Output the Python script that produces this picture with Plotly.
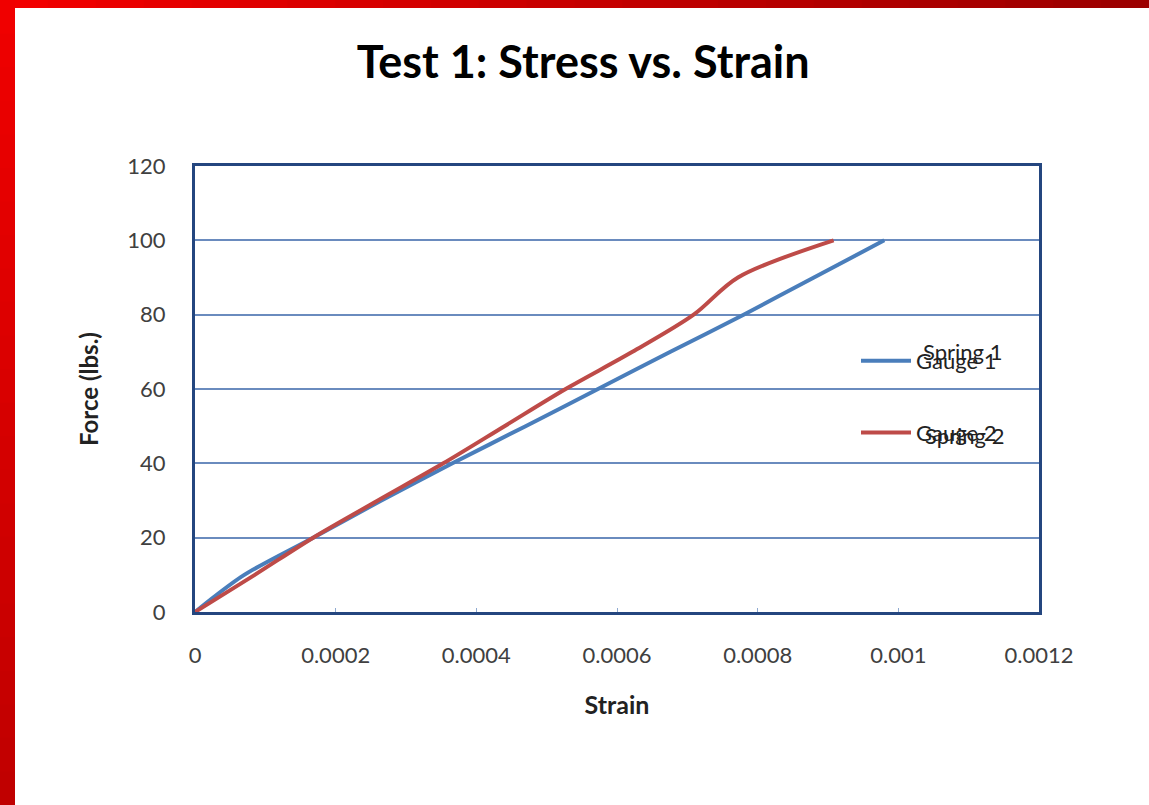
import plotly.graph_objects as go

# ---- data ----
spring1_strain = [0, 0.00003, 0.00007, 0.000168, 0.000265, 0.000366, 0.00047, 0.000573, 0.000676, 0.00078, 0.00088, 0.00098]
spring1_force = [0, 4.5, 10, 20, 30, 40, 50, 60, 70, 80, 90, 100]
spring2_strain = [0, 0.000085, 0.000168, 0.00026, 0.000353, 0.00044, 0.000527, 0.000622, 0.000709, 0.000772, 0.000908]
spring2_force = [0, 10, 20, 30, 40, 50, 60, 70, 80, 90, 100]
x_ticks = [0, 0.0002, 0.0004, 0.0006, 0.0008, 0.001, 0.0012]
x_tick_labels = ["0", "0.0002", "0.0004", "0.0006", "0.0008", "0.001", "0.0012"]
y_ticks = [0, 20, 40, 60, 80, 100, 120]

W, H = 1149, 805
L, R, T, B = 195, 110, 166, 193
PW, PH = W - L - R, H - T - B


def px_x(p):
    return (p - L) / PW


def px_y(p):
    return (H - B - p) / PH


FONT = "Lato, 'Open Sans', sans-serif"

fig = go.Figure()
fig.add_trace(go.Scatter(x=spring1_strain, y=spring1_force, mode="lines", name="Gauge 1",
                         legendgroup="g1", line=dict(color="#4A7EBB", width=4, shape="spline", smoothing=0.9)))
fig.add_trace(go.Scatter(x=spring2_strain, y=spring2_force, mode="lines", name="Gauge 2",
                         legendgroup="g2", line=dict(color="#BE4B48", width=4, shape="spline", smoothing=0.9)))

shapes = []
# red slide frame (approximate gradient with segments)
n = 24
for i in range(n):
    t = i / (n - 1)
    r = int(0xF2 + (0x9C - 0xF2) * t)
    shapes.append(dict(type="rect", xref="paper", yref="paper",
                       x0=px_x(W * i / n), x1=px_x(W * (i + 1) / n + 1), y0=px_y(8), y1=px_y(0),
                       fillcolor=f"rgb({r},0,0)", line=dict(width=0), layer="above"))
for i in range(n):
    t = i / (n - 1)
    r = int(0xF0 + (0xC0 - 0xF0) * t)
    shapes.append(dict(type="rect", xref="paper", yref="paper",
                       x0=px_x(0), x1=px_x(15), y0=px_y(H * i / n), y1=px_y(H * (i + 1) / n + 1),
                       fillcolor=f"rgb({r},0,0)", line=dict(width=0), layer="above"))

annotations = [
    dict(text="Spring 1", xref="paper", yref="paper", x=px_x(921), y=px_y(351), xanchor="left", yanchor="middle",
         showarrow=False, font=dict(family=FONT, size=22, color="#222222")),
    dict(text="Spring 2", xref="paper", yref="paper", x=px_x(923), y=px_y(435), xanchor="left", yanchor="middle",
         showarrow=False, font=dict(family=FONT, size=22, color="#222222")),
]

fig.update_layout(
    width=W, height=H,
    margin=dict(l=L, r=R, t=T, b=B),
    paper_bgcolor="white", plot_bgcolor="white",
    title=dict(text="<b>Test 1: Stress vs. Strain</b>", x=0.5075, xanchor="center", y=1 - 62 / H, yanchor="middle",
               font=dict(family=FONT, size=45, color="black")),
    font=dict(family=FONT, size=18, color="#404040"),
    showlegend=True,
    legend=dict(x=px_x(856), y=px_y(340), xanchor="left", yanchor="top", bgcolor="rgba(0,0,0,0)",
                font=dict(family=FONT, size=22, color="#222222"), tracegroupgap=40, traceorder="grouped",
                itemwidth=50),
    shapes=shapes,
    annotations=annotations,
)
fig.update_xaxes(range=[0, 0.0012], tickvals=x_ticks, ticktext=x_tick_labels,
                 showgrid=False, zeroline=False, showline=True, mirror=True, linecolor="#24467F", linewidth=3,
                 ticks="inside", ticklen=4, tickcolor="#8EA9D0", ticklabelstandoff=22,
                 tickfont=dict(family=FONT, size=22, color="#404040"),
                 title=dict(text="<b>Strain</b>", standoff=30, font=dict(family=FONT, size=25, color="#222222")))
fig.update_yaxes(range=[0, 120], tickvals=y_ticks,
                 showgrid=True, gridcolor="#6A8BBE", gridwidth=1.5, zeroline=False,
                 showline=True, mirror=True, linecolor="#24467F", linewidth=3,
                 ticks="", ticklabelstandoff=22,
                 tickfont=dict(family=FONT, size=22, color="#404040"),
                 title=dict(text="<b>Force (lbs.)</b>", standoff=22, font=dict(family=FONT, size=24, color="#222222")))

fig.write_html("out.html", config={"displayModeBar": False},
               post_script="document.body.style.margin='0';document.body.style.overflow='hidden';")
